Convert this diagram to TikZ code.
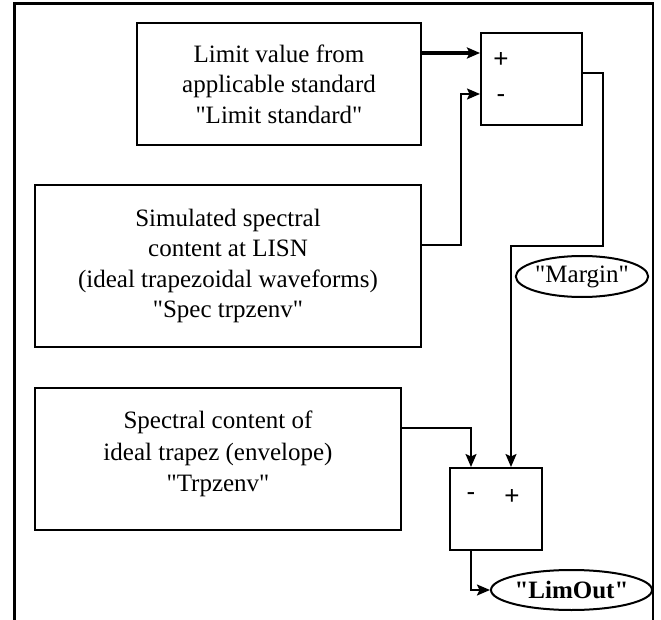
\documentclass[tikz,border=0pt]{standalone}
\usepackage{fontspec}
\newfontfamily\serif{Liberation Serif}
\newfontfamily\signfont{Liberation Sans}
\usetikzlibrary{arrows.meta,shapes.geometric,calc}
\begin{document}
\begin{tikzpicture}[x=1pt,y=-1pt,
  box/.style={draw,line width=2pt,rectangle,align=center,inner sep=0pt,
    font=\serif\fontsize{25}{30.5}\selectfont},
  sumbox/.style={draw,line width=2pt,rectangle,inner sep=0pt},
  sign/.style={font=\signfont\fontsize{26}{26}\selectfont,inner sep=0pt},
  oval/.style={draw,line width=2pt,ellipse,inner sep=0pt,fill=white},
  tip/.style={-{Stealth[length=13pt,width=11pt,inset=2.5pt]}},
  conn/.style={line width=1.8pt,tip},
  thickconn/.style={line width=3.4pt,tip}
]
\useasboundingbox (0,0) rectangle (661,620);
% frame (open at the bottom edge of the picture)
\draw[line width=2.5pt] (14.5,640) -- (14.5,3.5) -- (653,3.5) -- (653,640);

% source boxes
\node[box,minimum width=284pt,minimum height=122pt] (lim) at (279,84)
  {Limit value from\\applicable standard\\"Limit standard"};
\node[box,minimum width=386pt,minimum height=162pt] (spec) at (228,266)
  {Simulated spectral\\content at LISN\\(ideal trapezoidal waveforms)\\"Spec trpzenv"};
\node[box,minimum width=366pt,minimum height=142pt] (trp) at (218,459) {};
\node[font=\serif\fontsize{25}{31.5}\selectfont,align=center,inner sep=0pt] (trptext) at (218,454)
  {Spectral content of\\ideal trapez (envelope)\\"Trpzenv"};

% summing boxes
\node[sumbox,minimum width=101pt,minimum height=92pt] (sa) at (531.5,79) {};
\node[sign] (sap) at (501,60) {+};
\node[sign] (sam) at (501,99) {-};
\node[sumbox,minimum width=92pt,minimum height=82pt] (sb) at (496,509) {};
\node[sign] (sbm) at (471,497) {-};
\node[sign] (sbp) at (512,497) {+};

% ovals
\node[oval,minimum width=122pt,minimum height=41pt,font=\serif\fontsize{25}{30}\selectfont] (margin) at (582,276.5) {"Margin"};
\node[oval,minimum width=143pt,minimum height=40pt,font=\serif\bfseries\fontsize{25}{30}\selectfont] (limout) at (571.5,590) {"LimOut"};

% connectors
\draw[thickconn] (lim.east |- 0,53) -- (sa.west |- 0,53);
\draw[conn] (spec.east |- 0,245) -- (461,245) -- (461,94) -- (sa.west |- 0,94);
\draw[conn] (sa.east |- 0,73) -- (603,73) -- (603,246) -- (511,246) -- (sb.north -| 511,0);
\draw[conn] (trp.east |- 0,428) -- (471,428) -- (sb.north -| 471,0);
\draw[conn] (sb.south -| 471,0) -- (471,590) -- (limout.west);
\end{tikzpicture}
\end{document}
